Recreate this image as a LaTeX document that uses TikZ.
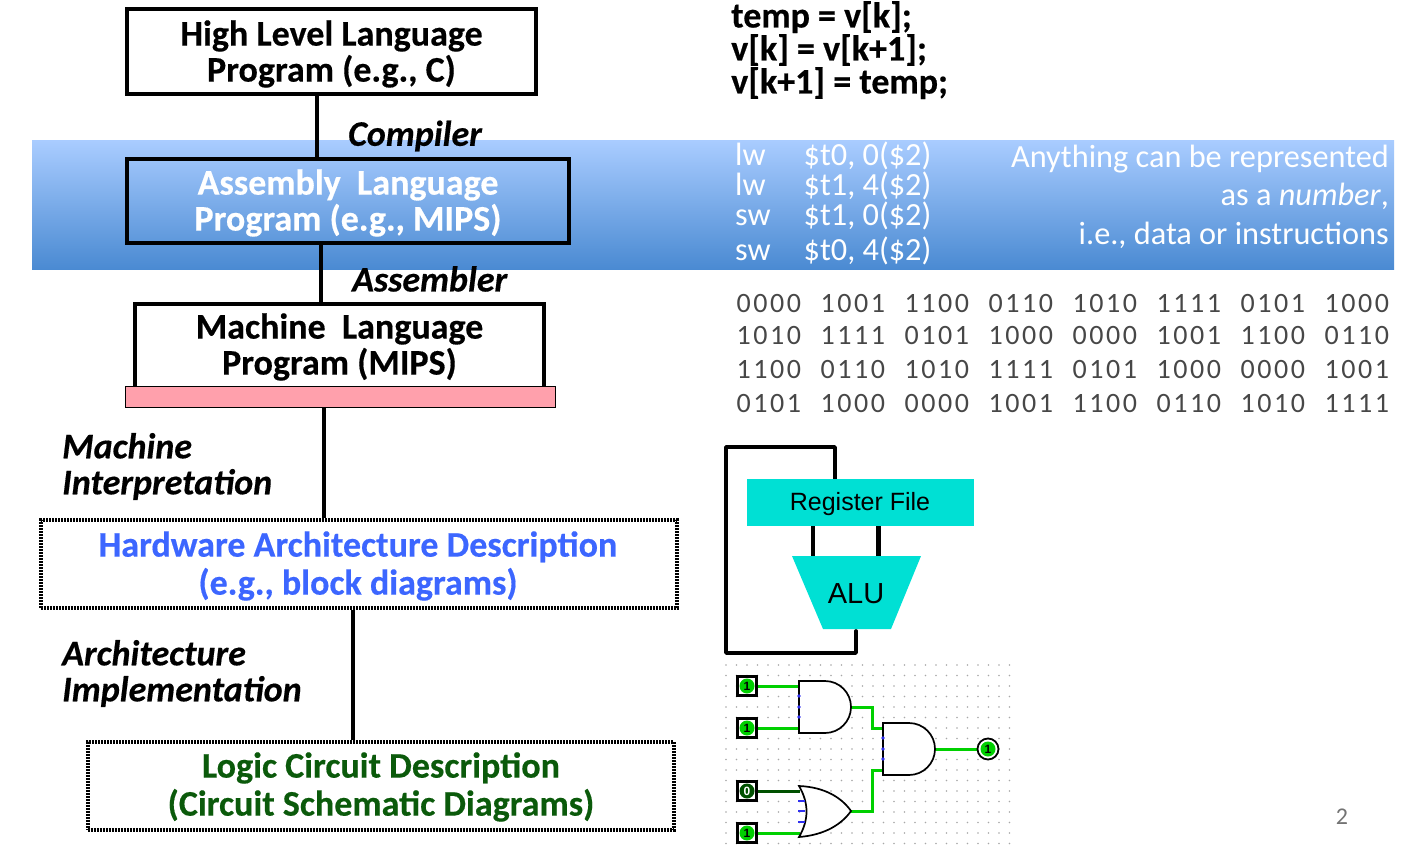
\documentclass[tikz,border=0pt]{standalone}
\usepackage{fontspec}
\setmainfont{Carlito}[BoldFeatures={FakeBold=0.4},BoldItalicFeatures={FakeBold=0.4}]
\newfontfamily\arialf{Liberation Sans}
\usetikzlibrary{calc}
\definecolor{bandtop}{HTML}{A9CCFF}
\definecolor{bandbot}{HTML}{4A8AD2}
\definecolor{teal}{HTML}{00E0D4}
\definecolor{pinkbar}{HTML}{FFA0AC}
\definecolor{hwblue}{HTML}{3C66FF}
\definecolor{logicgreen}{HTML}{0B5A0B}
\definecolor{wiregreen}{HTML}{00D000}
\definecolor{darkwire}{HTML}{005000}
\definecolor{pinblue}{HTML}{3030F0}
\definecolor{griddot}{HTML}{A8A8A8}
\tikzset{
 x=1pt,y=-1pt,
 solidbox/.style={draw=black,line width=4pt,anchor=center,align=center,inner sep=0pt},
 dotbox/.style={draw=black,line width=4pt,dash pattern=on 2pt off 1pt,anchor=center,align=center,inner sep=0pt},
 boxtext/.style={font=\fontsize{36}{36}\selectfont\bfseries,align=center},
 widebox/.style={font=\fontsize{36}{38}\selectfont\bfseries,align=center},
 itext/.style={font=\fontsize{36}{36}\selectfont\bfseries\itshape,align=left,anchor=west,inner sep=0pt},
 link/.style={line width=4pt,black},
 codetext/.style={font=\fontsize{36}{33}\selectfont\bfseries,anchor=base west,inner sep=0pt},
 asm/.style={font=\fontsize{32.3}{31}\selectfont,white,anchor=base west,inner sep=0pt},
 rtext/.style={font=\fontsize{32.3}{31}\selectfont,white,anchor=base east,inner sep=0pt},
 bits/.style={font=\fontsize{28}{28}\selectfont\addfontfeature{LetterSpace=9},text=black!72,anchor=base west,inner sep=0pt},
 rtlwire/.style={line width=3.8pt,black,line cap=round,line join=round},
 tealshape/.style={fill=teal,draw=none},
 wire/.style={line width=3pt,wiregreen},
 gate/.style={line width=1.7pt,black,fill=white},
 pinbox/.style={draw=black,line width=2.4pt,fill=white,minimum size=19pt,inner sep=0pt},
 led/.style={circle,fill=wiregreen,minimum size=15pt,inner sep=0pt,font=\fontsize{12}{12}\selectfont\bfseries\arialf},
 pindot/.style={circle,fill=pinblue,inner sep=0pt,minimum size=3.6pt},
}
\begin{document}
\begin{tikzpicture}
\useasboundingbox (0,0) rectangle (1418,850);
\shade[top color=bandtop,bottom color=bandbot,draw=none] (32,140.5) rectangle (1394,269.5);

% left column boxes
\node[solidbox,minimum width=409pt,minimum height=84.5pt] (hll) at (331.5,51.75) {};
\node[boxtext] at (331.5,54) {High Level Language\\Program (e.g., C)};
\node[solidbox,minimum width=442pt,minimum height=84pt] (asmb) at (348,201) {};
\node[boxtext,white] at (348,203) {Assembly\ \ Language\\Program (e.g., MIPS)};
\node[solidbox,minimum width=409pt,minimum height=84pt] (mlb) at (339.5,346) {};
\node[boxtext] at (339.5,347) {Machine\ \ Language\\Program (MIPS)};
\node[draw=black,line width=1.8pt,fill=pinkbar,minimum width=430pt,minimum height=21pt,inner sep=0pt] (bar) at (340.5,397) {};
\node[dotbox,minimum width=636pt,minimum height=88pt] (hw) at (358.5,564) {};
\node[widebox,text=hwblue] at (358,566) {Hardware Architecture Description\\(e.g., block diagrams)};
\node[dotbox,minimum width=586pt,minimum height=88pt] (lc) at (380.5,785.5) {};
\node[widebox,text=logicgreen] at (381,787) {Logic Circuit Description\\(Circuit Schematic Diagrams)};

% connectors
\draw[link] (hll.south -| 316.5,0) -- (asmb.north -| 316.5,0);
\draw[link] (asmb.south -| 321,0) -- (mlb.north -| 321,0);
\draw[link] (bar.south -| 324,0) -- (hw.north -| 324,0);
\draw[link] (hw.south -| 352.5,0) -- (lc.north -| 352.5,0);

% process labels
\node[itext] (comp) at (348,136) {Compiler};
\node[itext] (assem) at (352,279) {Assembler};
\node[itext,text width=260pt] (mi) at (62,466.5) {Machine\\Interpretation};
\node[itext,text width=300pt] (ai) at (62,673.5) {Architecture\\Implementation};

% code
\node[codetext] (c1) at (731,27.5) {temp = v[k];};
\node[codetext] (c2) at (731,60.5) {v[k] = v[k+1];};
\node[codetext] (c3) at (731,93.5) {v[k+1] = temp;};

% assembly
\node[asm] (a1) at (735,166) {lw};\node[asm] (a1b) at (803.5,166) {\$t0, 0(\$2)};
\node[asm] (a2) at (735,196) {lw};\node[asm] (a2b) at (803.5,196) {\$t1, 4(\$2)};
\node[asm] (a3) at (735,226) {sw};\node[asm] (a3b) at (803.5,226) {\$t1, 0(\$2)};
\node[asm] (a4) at (735,261) {sw};\node[asm] (a4b) at (803.5,261) {\$t0, 4(\$2)};
\node[rtext] (r1) at (1389,168) {Anything can be represented};
\node[rtext] (r2) at (1389,206) {as a \textit{number},};
\node[rtext] (r3) at (1389,245) {i.e., data or instructions};

% binary
\foreach \yy/\a/\b/\c/\d/\e/\f/\g/\h in {
 312.5/0000/1001/1100/0110/1010/1111/0101/1000,
 344.5/1010/1111/0101/1000/0000/1001/1100/0110,
 378.5/1100/0110/1010/1111/0101/1000/0000/1001,
 412.5/0101/1000/0000/1001/1100/0110/1010/1111}{
 \node[bits] at (736.5,\yy) {\a};
 \node[bits] at (820.5,\yy) {\b};
 \node[bits] at (904.5,\yy) {\c};
 \node[bits] at (988.5,\yy) {\d};
 \node[bits] at (1072.5,\yy) {\e};
 \node[bits] at (1156.5,\yy) {\f};
 \node[bits] at (1240.5,\yy) {\g};
 \node[bits] at (1324.5,\yy) {\h};
}

% RTL block diagram
\draw[rtlwire] (835,479) -- (835,447) -- (726,447) -- (726,653) -- (856,653) -- (856,631);
\draw[line width=4.4pt] (813,525) -- (813,556);
\draw[line width=4.4pt] (878.5,525) -- (878.5,556);
\node[tealshape,minimum width=227pt,minimum height=47pt,inner sep=0pt] (rf) at (860.5,502) {};
\node[font=\fontsize{25}{25}\selectfont\arialf] at (860,504) {Register File};
\fill[teal] (792,556) -- (921,556) -- (891,629) -- (823,629) -- cycle;
\node[font=\fontsize{29}{29}\selectfont\arialf] (alu) at (856,594) {ALU};

% Logic grid
\foreach \i in {0,...,27}\foreach \j in {0,...,17}{
 \fill[griddot] (726+\i*10.5,665+\j*10.5) circle (0.8pt);
}
% logic wires
\draw[wire] (757,686) -- (800,686);
\draw[wire] (757,728) -- (800,728);
\draw[wire] (851,707) -- (872,707) -- (872,728) -- (884,728);
\draw[wire] (935,749) -- (978,749);
\draw[wire] (851,811) -- (872,811) -- (872,770) -- (884,770);
\draw[line width=3pt,darkwire] (757,791) -- (800,791);
\draw[wire] (757,833) -- (800,833);
% gates
\draw[gate] (799,681) -- (825,681) arc[start angle=-90,end angle=90,radius=26] -- (799,733) -- cycle;
\draw[gate] (883,723) -- (909,723) arc[start angle=-90,end angle=90,radius=26] -- (883,775) -- cycle;
\draw[gate] (799,786) .. controls (825,787) and (842,798) .. (851,811) .. controls (842,824) and (825,835) .. (799,837) .. controls (809,820) and (809,803) .. (799,786) -- cycle;
% gate pins
\foreach \y in {696,707,717}{\node[pindot] at (799,\y) {};}
\foreach \y in {738,749,759}{\node[pindot] at (883,\y) {};}
\foreach \y in {801,811,822}{\draw[pinblue,line width=2.4pt] (798,\y) -- (805,\y);}
% inputs
\node[pinbox] (i1) at (747,686) {};\node[led] at (747,686) {1};
\node[pinbox] (i2) at (747,728) {};\node[led] at (747,728) {1};
\node[pinbox] (i3) at (747,791) {};\node[led,fill=darkwire,text=white] at (747,791) {0};
\node[pinbox] (i4) at (747,833) {};\node[led] at (747,833) {1};
\node[circle,draw=black,line width=1.8pt,fill=white,minimum size=21pt,inner sep=0pt] (o1) at (988,749) {};
\node[led] at (988,749) {1};

\node[font=\fontsize{24}{24}\selectfont,text=black!55] (pg) at (1342,817) {2};
\end{tikzpicture}
\end{document}
